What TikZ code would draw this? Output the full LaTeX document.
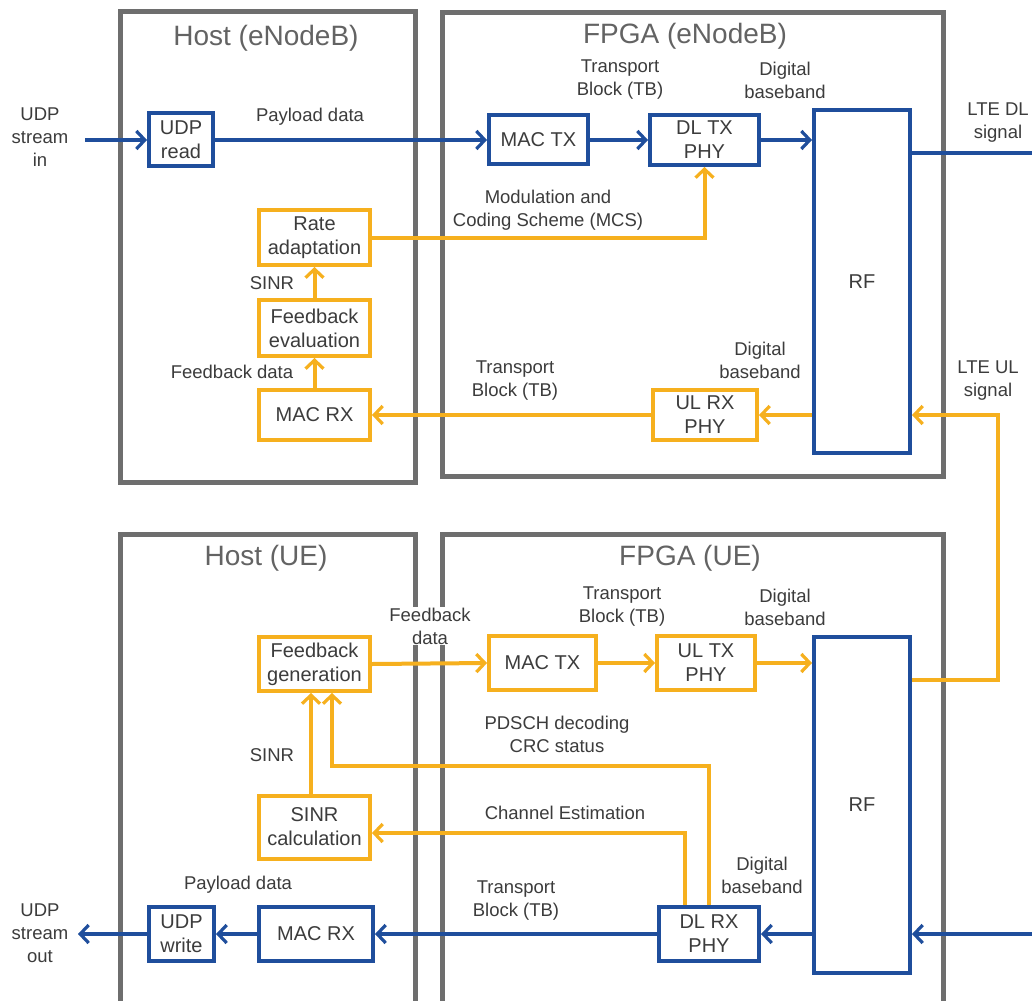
\documentclass[tikz,border=0pt]{standalone}
\usepackage{fontspec}
\setmainfont{Liberation Sans}
\usetikzlibrary{arrows.meta}
\definecolor{bl}{HTML}{1F4E9C}
\definecolor{og}{HTML}{F6B01E}
\definecolor{gr}{HTML}{6E6E6E}
\definecolor{tx}{HTML}{3C3C3C}
\begin{document}
\begin{tikzpicture}[x=1pt,y=-1pt,
  blk/.style={draw,line width=4pt,inner sep=0pt,align=center,text=tx,font=\fontsize{20}{24}\selectfont},
  bbox/.style={blk,draw=bl},
  obox/.style={blk,draw=og},
  tip/.style={-{Straight Barb[length=8.5pt,width=18pt,line width=3.2pt]}},
  bline/.style={draw=bl,line width=4pt},
  oline/.style={draw=og,line width=4pt},
  bconn/.style={bline,tip},
  oconn/.style={oline,tip},
  frame/.style={draw=gr,line width=5pt},
  lbl/.style={font=\fontsize{18.5}{23}\selectfont,text=tx,align=center,inner sep=0pt},
  ttl/.style={font=\fontsize{28}{32}\selectfont,text=gr!90!black,inner sep=0pt}]
\useasboundingbox (0,0) rectangle (1032,1000);
\fill[white] (0,0) rectangle (1032,1000);
\clip (0,0) rectangle (1032,1000);

% ---------- frames ----------
\draw[frame] (120,12) rectangle (415,482);
\draw[frame] (442,13) rectangle (943,476);
\draw[frame] (120,534) rectangle (415,1015);
\draw[frame] (442,534) rectangle (943,1015);
\node[ttl] (tHE) at (266,38) {Host (eNodeB)};
\node[ttl] (tFE) at (685,36) {FPGA (eNodeB)};
\node[ttl] (tHU) at (266,558) {Host (UE)};
\node[ttl] (tFU) at (690,558) {FPGA (UE)};
\node[lbl,fill=white,inner sep=1pt] (l12) at (430,626) {Feedback\\data};

% ---------- eNodeB blocks ----------
\node[bbox,minimum width=64pt,minimum height=53pt] (udpread) at (181,140) {UDP\\read};
\node[bbox,minimum width=99pt,minimum height=49pt] (mactxE) at (538.5,140) {MAC TX};
\node[bbox,minimum width=109pt,minimum height=50pt] (dltx) at (704.5,140) {DL TX\\PHY};
\node[bbox,minimum width=96pt,minimum height=343pt] (rfE) at (862,281.5) {RF};
\node[obox,minimum width=111pt,minimum height=55pt] (rate) at (314.5,237.5) {Rate\\adaptation};
\node[obox,minimum width=111pt,minimum height=56pt] (fbeval) at (314.5,328) {Feedback\\evaluation};
\node[obox,minimum width=111pt,minimum height=50pt] (macrxE) at (314.5,415) {MAC RX};
\node[obox,minimum width=104pt,minimum height=50pt] (ulrx) at (705,415) {UL RX\\PHY};

% ---------- UE blocks ----------
\node[obox,minimum width=111pt,minimum height=54pt] (fbgen) at (314.5,664) {Feedback\\generation};
\node[obox,minimum width=111pt,minimum height=63pt] (sinrcalc) at (314.5,827) {SINR\\calculation};
\node[bbox,minimum width=65pt,minimum height=54pt] (udpwrite) at (181.5,934) {UDP\\write};
\node[bbox,minimum width=114pt,minimum height=54pt] (macrxU) at (316,934) {MAC RX};
\node[bbox,minimum width=100pt,minimum height=54pt] (dlrx) at (709,934) {DL RX\\PHY};
\node[obox,minimum width=107pt,minimum height=54pt] (mactxU) at (542.5,663) {MAC TX};
\node[obox,minimum width=98pt,minimum height=54pt] (ultx) at (706,663) {UL TX\\PHY};
\node[bbox,minimum width=96pt,minimum height=336pt] (rfU) at (862,805) {RF};

% ---------- coordinates ----------
\coordinate (udpin) at (85,140);
\coordinate (dlout) at (1032,153);
\coordinate (ulturn) at (998,680);
\coordinate (pd1) at (709,766);
\coordinate (pd2) at (332,766);
\coordinate (ce) at (685,833);
\coordinate (sx) at (311,750);
\coordinate (udpout) at (78,934);
\coordinate (dlin) at (1032,934);

% ---------- eNodeB connectors ----------
\draw[bconn] (udpin) -- (udpread.west);
\draw[bconn] (udpread.east) -- (mactxE.west);
\draw[bconn] (mactxE.east) -- (dltx.west);
\draw[bconn] (dltx.east) -- (rfE.west |- dltx.east);
\draw[bline] (rfE.east |- dlout) -- (dlout);
\draw[oconn] (rate.east) -| (dltx.south);
\draw[oconn] (fbeval.north) -- (rate.south);
\draw[oconn] (macrxE.north) -- (fbeval.south);
\draw[oconn] (rfE.west |- ulrx.east) -- (ulrx.east);
\draw[oconn] (ulrx.west) -- (macrxE.east);
\draw[oconn] (rfU.east |- ulturn) -- (ulturn) |- (rfE.east |- ulrx.east);

% ---------- UE connectors ----------
\draw[oconn] (fbgen.east) -- (mactxU.west);
\draw[oconn] (mactxU.east) -- (ultx.west);
\draw[oconn] (ultx.east) -- (rfU.west |- ultx.east);
\draw[oconn] (dlrx.north) -- (pd1) -- (pd2) -- (fbgen.south -| pd2);
\draw[oconn] (dlrx.north -| ce) -- (ce) -- (sinrcalc.east |- ce);
\draw[oconn] (sinrcalc.north -| sx) -- (fbgen.south -| sx);
\draw[bconn] (rfU.west |- dlrx.east) -- (dlrx.east);
\draw[bconn] (dlrx.west) -- (macrxU.east);
\draw[bconn] (macrxU.west) -- (udpwrite.east);
\draw[bconn] (udpwrite.west) -- (udpout);
\draw[bconn] (dlin) -- (rfU.east |- dlin);

% ---------- labels ----------
\node[lbl] (l1) at (40,137) {UDP\\stream\\in};
\node[lbl] (l2) at (310,117) {Payload data};
\node[lbl] (l3) at (620,80) {Transport\\Block (TB)};
\node[lbl] (l4) at (785,80) {Digital\\baseband};
\node[lbl] (l5) at (998,123) {LTE DL\\signal};
\node[lbl] (l6) at (548,210) {Modulation and\\Coding Scheme (MCS)};
\node[lbl] (l7) at (272,283) {SINR};
\node[lbl] (l8) at (232,372) {Feedback data};
\node[lbl] (l9) at (515,381) {Transport\\Block (TB)};
\node[lbl] (l10) at (760,360) {Digital\\baseband};
\node[lbl] (l11) at (988,381) {LTE UL\\signal};
\node[lbl] (l13) at (622,607) {Transport\\Block (TB)};
\node[lbl] (l14) at (785,607) {Digital\\baseband};
\node[lbl] (l15) at (557,734) {PDSCH decoding\\CRC status};
\node[lbl] (l16) at (272,755) {SINR};
\node[lbl] (l17) at (565,813) {Channel Estimation};
\node[lbl] (l18) at (238,885) {Payload data};
\node[lbl] (l19) at (516,901) {Transport\\Block (TB)};
\node[lbl] (l20) at (762,875) {Digital\\baseband};
\node[lbl] (l21) at (40,933) {UDP\\stream\\out};
\end{tikzpicture}
\end{document}
